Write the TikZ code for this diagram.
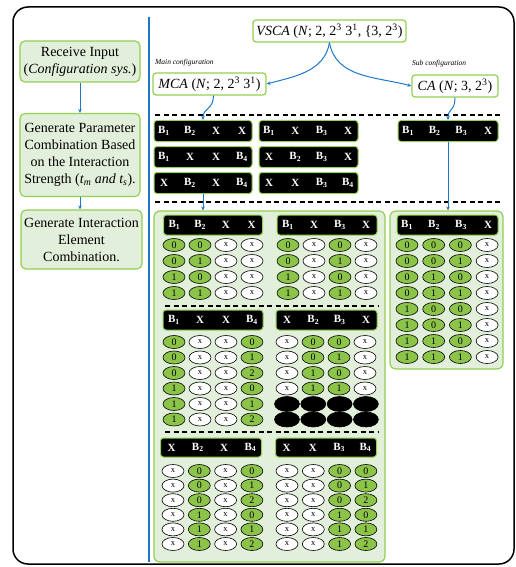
\documentclass[tikz,border=0pt]{standalone}
\usepackage{fontspec}
\setmainfont{Liberation Serif}
\usetikzlibrary{shapes.geometric,arrows.meta}
\definecolor{gborder}{RGB}{146,208,80}
\definecolor{gfill}{RGB}{226,239,218}
\definecolor{gcell}{RGB}{140,196,74}
\definecolor{lblue}{RGB}{30,118,200}
\newcommand\Bs[1]{B\textsubscript{#1}}
\newcommand\tblrow[5]{\foreach \cs/\cv [count=\cc] in {#5}{\node[cell\cs] (#1-\cc) at ({#3+(\cc-1)*#4},{#2}) {\cv};}}
\newcommand\hdrbar[7]{%
  \node[blackbar, minimum width=#4, minimum height=#5] (#1) at (#2,#3) {};
  \foreach \lab [count=\cc] in {#7}{\node[barlab] (#1-l\cc) at ({#2-#4/2+#6+(\cc-1)*(#4-2*#6)/3},#3) {\lab};}}
\begin{document}
\begin{tikzpicture}[x=1pt,y=-1pt,
  greenbox/.style={draw=gborder, line width=1.2pt, fill=gfill, rounded corners=5pt, align=center, inner sep=1pt, font=\rmfamily\fontsize{14}{17}\selectfont},
  whitebox/.style={draw=gborder, line width=1.2pt, fill=white, rounded corners=3pt, inner sep=1pt, font=\rmfamily\fontsize{14}{16}\selectfont},
  panel/.style={draw=gborder, line width=1.2pt, fill=gfill, rounded corners=6pt},
  conn/.style={draw=lblue, line width=1pt, -{Stealth[length=4pt,width=3.5pt]}},
  blackbar/.style={draw=gborder, line width=1pt, fill=black, rounded corners=3pt, inner sep=0pt},
  barlab/.style={text=white, font=\rmfamily\fontsize{11}{11}\selectfont\bfseries, inner sep=0pt},
  cellbase/.style={ellipse, draw=black, line width=0.6pt, minimum width=22pt, minimum height=13pt, inner sep=0pt},
  cellg/.style={cellbase, fill=gcell, font=\rmfamily\fontsize{10}{10}\selectfont},
  cellw/.style={cellbase, fill=white, font=\rmfamily\fontsize{8.5}{8.5}\selectfont},
  cellb/.style={cellbase, fill=black, minimum width=25pt, minimum height=15pt},
  sepline/.style={dash pattern=on 5pt off 3.5pt, line width=1.1pt},
  smalllab/.style={font=\rmfamily\fontsize{7.5}{8}\selectfont\itshape, anchor=west, inner sep=0pt}]
\useasboundingbox (0,0) rectangle (516,567);
% frame
\draw[line width=1.5pt, rounded corners=15pt] (13,7) rectangle (514,564);
\draw[lblue, line width=1.5pt] (149,17) -- (149,562);
% left column
\node[greenbox, minimum width=120pt, minimum height=41pt] (inp) at (80,61.5) {Receive Input\\(\textit{Configuration sys.})};
\node[greenbox, minimum width=120pt, minimum height=83pt] (gen) at (80,155) {Generate Parameter\\Combination Based\\on the Interaction\\Strength (\textit{t\textsubscript{m} and t\textsubscript{s}}).};
\node[greenbox, minimum width=121pt, minimum height=59pt] (elem) at (81.5,239.5) {Generate Interaction\\Element\\Combination.};
\draw[conn] (inp.south) -- (gen.north);
\draw[conn] (gen.south) -- (gen.south |- elem.north);
% top configuration
\node[whitebox, minimum width=153pt, minimum height=22pt] (vsca) at (329.5,31) {\textit{VSCA} (\textit{N}; 2, 2\textsuperscript{3} 3\textsuperscript{1}, \{3, 2\textsuperscript{3})};
\node[whitebox, minimum width=113pt, minimum height=22pt] (mca) at (209.5,84) {\textit{MCA} (\textit{N}; 2, 2\textsuperscript{3} 3\textsuperscript{1})};
\node[whitebox, minimum width=86pt, minimum height=22pt] (ca) at (455,86) {\textit{CA} (\textit{N}; 3, 2\textsuperscript{3})};
\node[smalllab] (mainlab) at (155,63) {Main configuration};
\node[smalllab] (sublab) at (412,64) {Sub configuration};
\draw[conn] (vsca.south) to[out=-100,in=15] (mca.east);
\draw[conn] (vsca.south) to[out=-80,in=165] (ca.west);
% separators
\draw[sepline] (155,115) -- (500,115);
\draw[sepline] (155,202) -- (500,202);
% combination bars
\hdrbar{b11}{203}{131}{98}{21}{10}{\Bs{1},\Bs{2},X,X}
\hdrbar{b12}{308.5}{131}{99}{21}{10}{\Bs{1},X,\Bs{3},X}
\hdrbar{b21}{203}{157}{98}{21}{10}{\Bs{1},X,X,\Bs{4}}
\hdrbar{b22}{308.5}{157}{99}{21}{10}{X,\Bs{2},\Bs{3},X}
\hdrbar{b31}{203}{183}{98}{21}{10}{X,\Bs{2},X,\Bs{4}}
\hdrbar{b32}{308.5}{183}{99}{21}{10}{X,X,\Bs{3},\Bs{4}}
\hdrbar{cabar}{448}{131}{100}{21}{10}{\Bs{1},\Bs{2},\Bs{3},X}
\draw[conn] ([xshift=4pt]mca.south) .. controls +(0,14) and +(0,-12) .. (b11.north);
\draw[conn] (ca.south) .. controls +(0,14) and +(0,-12) .. (cabar.north);
% panels
\node[panel, minimum width=231pt, minimum height=351pt] (mainbox) at (269.5,386.5) {};
\node[panel, minimum width=113pt, minimum height=158pt] (catab) at (446.5,290) {};
\draw[conn] (b31.south) -- (b31.south |- mainbox.north);
\draw[conn] (cabar.south) -- (cabar.south |- catab.north);
\draw[sepline] (165,306) -- (378,306);
\draw[sepline] (165,432) -- (378,432);
% section 1
\hdrbar{h1l}{213}{225}{99}{20}{11}{\Bs{1},\Bs{2},X,X}
\hdrbar{h1r}{327}{225}{100}{20}{11}{\Bs{1},X,\Bs{3},X}
\tblrow{s1l-1}{245}{174}{26}{g/0,g/0,w/x,w/x}
\tblrow{s1l-2}{261}{174}{26}{g/0,g/1,w/x,w/x}
\tblrow{s1l-3}{277}{174}{26}{g/1,g/0,w/x,w/x}
\tblrow{s1l-4}{293}{174}{26}{g/1,g/1,w/x,w/x}
\tblrow{s1r-1}{245}{288}{26}{g/0,w/x,g/0,w/x}
\tblrow{s1r-2}{261}{288}{26}{g/0,w/x,g/1,w/x}
\tblrow{s1r-3}{277}{288}{26}{g/1,w/x,g/0,w/x}
\tblrow{s1r-4}{293}{288}{26}{g/1,w/x,g/1,w/x}
% section 2
\hdrbar{h2l}{213}{320}{100}{20}{11}{\Bs{1},X,X,\Bs{4}}
\hdrbar{h2r}{326.5}{320}{101}{20}{11}{X,\Bs{2},\Bs{3},X}
\tblrow{s2l-1}{342}{174}{26}{g/0,w/x,w/x,g/0}
\tblrow{s2l-2}{357.5}{174}{26}{g/0,w/x,w/x,g/1}
\tblrow{s2l-3}{373}{174}{26}{g/0,w/x,w/x,g/2}
\tblrow{s2l-4}{388.5}{174}{26}{g/1,w/x,w/x,g/0}
\tblrow{s2l-5}{404}{174}{26}{g/1,w/x,w/x,g/1}
\tblrow{s2l-6}{419.5}{174}{26}{g/1,w/x,w/x,g/2}
\tblrow{s2r-1}{342}{287}{26}{w/x,g/0,g/0,w/x}
\tblrow{s2r-2}{357.5}{287}{26}{w/x,g/0,g/1,w/x}
\tblrow{s2r-3}{373}{287}{26}{w/x,g/1,g/0,w/x}
\tblrow{s2r-4}{388.5}{287}{26}{w/x,g/1,g/1,w/x}
\tblrow{s2r-5}{404}{287}{26.3}{b/{},b/{},b/{},b/{}}
\tblrow{s2r-6}{419.5}{287}{26.3}{b/{},b/{},b/{},b/{}}
% section 3
\hdrbar{h3l}{211}{447.5}{101}{19}{11}{X,\Bs{2},X,\Bs{4}}
\hdrbar{h3r}{326}{447.5}{101}{19}{11}{X,X,\Bs{3},\Bs{4}}
\tblrow{s3l-1}{471}{173}{26.3}{w/x,g/0,w/x,g/0}
\tblrow{s3l-2}{485.6}{173}{26.3}{w/x,g/0,w/x,g/1}
\tblrow{s3l-3}{500.2}{173}{26.3}{w/x,g/0,w/x,g/2}
\tblrow{s3l-4}{514.8}{173}{26.3}{w/x,g/1,w/x,g/0}
\tblrow{s3l-5}{529.4}{173}{26.3}{w/x,g/1,w/x,g/1}
\tblrow{s3l-6}{544}{173}{26.3}{w/x,g/1,w/x,g/2}
\tblrow{s3r-1}{471}{287}{26.3}{w/x,w/x,g/0,g/0}
\tblrow{s3r-2}{485.6}{287}{26.3}{w/x,w/x,g/0,g/1}
\tblrow{s3r-3}{500.2}{287}{26.3}{w/x,w/x,g/0,g/2}
\tblrow{s3r-4}{514.8}{287}{26.3}{w/x,w/x,g/1,g/0}
\tblrow{s3r-5}{529.4}{287}{26.3}{w/x,w/x,g/1,g/1}
\tblrow{s3r-6}{544}{287}{26.3}{w/x,w/x,g/1,g/2}
% CA table
\hdrbar{hca}{447.5}{225}{101}{20}{10}{\Bs{1},\Bs{2},\Bs{3},X}
\tblrow{ca-1}{245}{407}{26.7}{g/0,g/0,g/0,w/x}
\tblrow{ca-2}{261}{407}{26.7}{g/0,g/0,g/1,w/x}
\tblrow{ca-3}{277}{407}{26.7}{g/0,g/1,g/0,w/x}
\tblrow{ca-4}{293}{407}{26.7}{g/0,g/1,g/1,w/x}
\tblrow{ca-5}{309}{407}{26.7}{g/1,g/0,g/0,w/x}
\tblrow{ca-6}{325}{407}{26.7}{g/1,g/0,g/1,w/x}
\tblrow{ca-7}{341}{407}{26.7}{g/1,g/1,g/0,w/x}
\tblrow{ca-8}{357}{407}{26.7}{g/1,g/1,g/1,w/x}
\end{tikzpicture}
\end{document}
